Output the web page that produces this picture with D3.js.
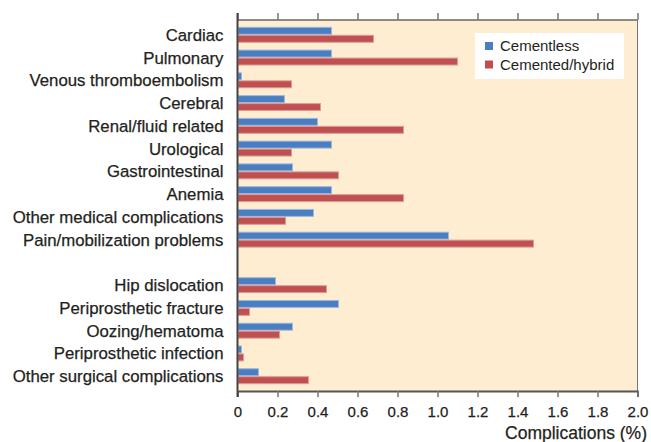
<!DOCTYPE html>
<html>
<head>
<meta charset="utf-8">
<script src="https://cdn.jsdelivr.net/npm/d3@7"></script>
<style>
  body { margin: 0; background: #fff; }
  svg { display: block; font-family: "Liberation Sans", Arial, sans-serif; }
</style>
</head>
<body>
<svg id="chart" width="651" height="442"></svg>
<script>
// Complication categories (empty string = spacer row between medical and surgical groups)
const categories = [
    'Cardiac', 'Pulmonary', 'Venous thromboembolism', 'Cerebral', 'Renal/fluid related',
    'Urological', 'Gastrointestinal', 'Anemia', 'Other medical complications',
    'Pain/mobilization problems', '',
    'Hip dislocation', 'Periprosthetic fracture', 'Oozing/hematoma',
    'Periprosthetic infection', 'Other surgical complications'
];
const cementless = [0.47, 0.47, 0.02, 0.235, 0.40, 0.47, 0.275, 0.47, 0.38, 1.055, null,
    0.19, 0.505, 0.275, 0.02, 0.105];
const cemented = [0.68, 1.10, 0.27, 0.415, 0.83, 0.27, 0.505, 0.83, 0.24, 1.48, null,
    0.445, 0.06, 0.21, 0.03, 0.355];
const seriesNames = ['Cementless', 'Cemented/hybrid'];
const xTicks = [0, 0.2, 0.4, 0.6, 0.8, 1.0, 1.2, 1.4, 1.6, 1.8, 2.0];

const colors = { 'Cementless': '#4a7ec2', 'Cemented/hybrid': '#c0504f' };
const strokes = { 'Cementless': '#9db8de', 'Cemented/hybrid': '#dc9c9a' };
const textColor = '#231f20';

const margin = { top: 20, right: 13.5, bottom: 51, left: 237.5 };
const width = 651 - margin.left - margin.right;
const height = 442 - margin.top - margin.bottom;

const svg = d3.select('#chart');
const g = svg.append('g').attr('transform', `translate(${margin.left},${margin.top})`);

const x = d3.scaleLinear().domain([0, 2]).range([0, width]);
const y = d3.scaleBand()
    .domain(categories.map((c, i) => i))
    .range([0, height])
    .paddingInner(0.3)
    .paddingOuter(0.3);
const ySub = d3.scaleBand().domain(seriesNames).range([0, y.bandwidth()]);

// Plot background
g.append('rect')
    .attr('width', width)
    .attr('height', height)
    .attr('fill', '#feedd1');

// Bars
const rows = categories.map((c, i) => ({
    i, name: c,
    values: [
        { key: 'Cementless', v: cementless[i] },
        { key: 'Cemented/hybrid', v: cemented[i] }
    ]
})).filter(d => d.name !== '');

const groups = g.append('g')
    .selectAll('g')
    .data(rows)
    .join('g')
    .attr('transform', d => `translate(0,${y(d.i)})`);

groups.selectAll('rect')
    .data(d => d.values)
    .join('rect')
    .attr('x', 0.5)
    .attr('y', d => ySub(d.key) + 0.5)
    .attr('width', d => Math.max(0, x(d.v) - 0.5))
    .attr('height', ySub.bandwidth() - 1)
    .attr('fill', d => colors[d.key])
    .attr('stroke', d => strokes[d.key])
    .attr('stroke-width', 1);

// Category labels
g.append('g')
    .selectAll('text')
    .data(rows)
    .join('text')
    .attr('x', -14)
    .attr('y', d => y(d.i) + y.bandwidth() / 2)
    .attr('dy', '0.36em')
    .attr('text-anchor', 'end')
    .attr('font-size', '16.8px')
    .attr('fill', textColor)
    .attr('stroke', textColor)
    .attr('stroke-width', 0.25)
    .text(d => d.name);

// Frame: top and right border
g.append('line')
    .attr('x1', 0).attr('x2', width)
    .attr('y1', 0).attr('y2', 0)
    .attr('stroke', '#666').attr('stroke-width', 1.5);
g.append('line')
    .attr('x1', width).attr('x2', width)
    .attr('y1', 0).attr('y2', height)
    .attr('stroke', '#777').attr('stroke-width', 1);

// Top ticks (outward)
const topAxis = g.append('g')
    .call(d3.axisTop(x).tickValues(xTicks).tickSize(7).tickFormat(''));
topAxis.select('.domain').remove();
topAxis.selectAll('line').attr('stroke', '#777').attr('stroke-width', 1.5);

// Bottom axis
const bottomAxis = g.append('g')
    .attr('transform', `translate(0,${height})`)
    .call(d3.axisBottom(x).tickValues(xTicks).tickSize(6).tickPadding(9)
        .tickFormat(d => d === 0 ? '0' : d3.format('.1f')(d)));
bottomAxis.select('.domain').attr('stroke', '#555').attr('stroke-width', 2);
bottomAxis.selectAll('line').attr('stroke', '#777').attr('stroke-width', 1.5);
bottomAxis.selectAll('text')
    .attr('font-size', '15px')
    .attr('fill', textColor)
    .attr('stroke', textColor)
    .attr('stroke-width', 0.25)
    .attr('font-family', '"Liberation Sans", Arial, sans-serif');

// Left axis line
g.append('line')
    .attr('x1', 0).attr('x2', 0)
    .attr('y1', -7).attr('y2', height + 6)
    .attr('stroke', '#444').attr('stroke-width', 2);

// Axis title
svg.append('text')
    .attr('x', 647)
    .attr('y', 439)
    .attr('text-anchor', 'end')
    .attr('font-size', '17.5px')
    .attr('fill', textColor)
    .attr('stroke', textColor)
    .attr('stroke-width', 0.25)
    .text('Complications (%)');

// Legend
const legend = svg.append('g').attr('transform', 'translate(475,33)');
legend.append('rect')
    .attr('width', 149)
    .attr('height', 46)
    .attr('fill', '#fff');
const items = legend.selectAll('g')
    .data(seriesNames)
    .join('g')
    .attr('transform', (d, i) => `translate(10,${9 + i * 18.5})`);
items.append('rect')
    .attr('width', 8)
    .attr('height', 8)
    .attr('fill', d => colors[d]);
items.append('text')
    .attr('x', 15)
    .attr('y', 4)
    .attr('dy', '0.36em')
    .attr('font-size', '15px')
    .attr('fill', textColor)
    .text(d => d);
</script>
</body>
</html>
